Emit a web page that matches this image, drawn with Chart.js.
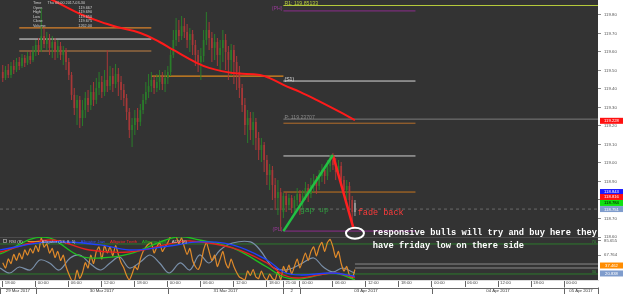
<!DOCTYPE html>
<html><head><meta charset="utf-8">
<script src="https://cdn.jsdelivr.net/npm/chart.js@4.4.1/dist/chart.umd.min.js"></script>
<style>html,body{margin:0;padding:0;background:#fff;overflow:hidden}canvas{display:block}</style>
</head><body><canvas id="c" width="625" height="294"></canvas>
<script>
// ---------- DATA ----------
const sessions = [['03-29 18:00','03-31 20:30'],['04-02 21:00','04-03 10:00']]; // 30-minute bars
const barMinutes = 30;
const open = [119.492,119.459,119.503,119.476,119.524,119.503,119.546,119.524,119.568,119.541,119.578,119.557,
119.600,119.638,119.611,119.686,119.643,119.676,119.622,119.654,119.600,
119.632,119.584,119.611,119.546,119.476,119.368,119.297,119.341,119.243,
119.286,119.351,119.313,119.384,119.341,119.405,119.438,119.384,119.449,
119.416,119.470,119.427,119.481,119.438,119.395,
119.351,119.276,119.178,119.205,
119.243,119.222,119.286,119.341,119.384,119.416,119.449,119.405,119.438,119.470,119.427,119.459,
119.492,119.584,119.665,119.719,119.686,119.740,119.708,119.665,119.697,119.638,119.584,119.546,119.578,119.665,119.719,119.676,119.622,119.654,119.584,119.622,119.665,119.600,119.557,119.611,119.546,119.492,
119.405,119.313,119.205,119.243,119.178,119.222,119.135,119.070,119.097,119.016,118.935,118.962,118.881,118.811,118.843,
118.735,118.822,118.773,118.811,118.757,118.800,118.832,118.789,118.822,118.865,118.832,118.881,118.908,118.876,118.930,118.962,118.930,118.984,119.016,118.989,118.951,118.984,118.908,118.854,118.876,118.800,118.735];
const close = [119.459,119.503,119.476,119.524,119.503,119.546,119.524,119.568,119.541,119.578,119.557,119.600,
119.638,119.611,119.686,119.643,119.676,119.622,119.654,119.600,119.632,
119.584,119.611,119.546,119.476,119.368,119.297,119.341,119.243,119.286,
119.351,119.313,119.384,119.341,119.405,119.438,119.384,119.449,119.416,
119.470,119.427,119.481,119.438,119.395,119.351,
119.276,119.178,119.205,119.243,
119.222,119.286,119.341,119.384,119.416,119.449,119.405,119.438,119.470,119.427,119.459,119.492,
119.584,119.665,119.719,119.686,119.740,119.708,119.665,119.697,119.638,119.584,119.546,119.578,119.665,119.719,119.676,119.622,119.654,119.584,119.622,119.665,119.600,119.557,119.611,119.546,119.492,119.405,
119.313,119.205,119.243,119.178,119.222,119.135,119.070,119.097,119.016,118.935,118.962,118.881,118.811,118.843,118.746,
118.822,118.773,118.811,118.757,118.800,118.832,118.789,118.822,118.865,118.832,118.881,118.908,118.876,118.930,118.962,118.930,118.984,119.016,118.989,118.951,118.984,118.908,118.854,118.876,118.800,118.735,118.784];
const high = [119.530,119.524,119.535,119.546,119.557,119.568,119.573,119.589,119.584,119.600,119.611,119.632,
119.665,119.676,119.838,119.730,119.708,119.697,119.686,119.676,119.665,
119.654,119.632,119.622,119.568,119.492,119.405,119.368,119.362,119.341,
119.384,119.395,119.422,119.438,119.459,119.492,119.470,119.503,119.611,
119.524,119.514,119.535,119.514,119.470,119.427,
119.373,119.297,119.243,119.286,
119.297,119.319,119.373,119.438,119.481,119.492,119.470,119.481,119.503,119.492,119.503,119.524,
119.611,119.719,119.784,119.773,119.795,119.784,119.751,119.730,119.719,119.665,119.611,119.622,119.719,119.816,119.762,119.708,119.697,119.676,119.665,119.719,119.697,119.632,119.643,119.638,119.578,119.524,
119.427,119.351,119.286,119.276,119.276,119.243,119.168,119.135,119.113,119.043,118.995,118.984,118.919,118.908,118.865,
118.838,118.843,118.832,118.827,118.822,118.865,118.854,118.854,118.897,118.886,118.919,118.941,118.930,118.962,118.995,118.984,119.016,119.043,119.054,119.027,119.016,119.005,118.930,118.908,118.897,118.822,118.800];
const low = [119.438,119.449,119.459,119.459,119.481,119.492,119.503,119.514,119.519,119.530,119.535,119.546,
119.578,119.584,119.600,119.622,119.611,119.584,119.568,119.557,119.568,
119.557,119.530,119.503,119.449,119.341,119.259,119.205,119.189,119.200,
119.243,119.276,119.286,119.308,119.319,119.368,119.351,119.362,119.384,
119.395,119.384,119.405,119.362,119.341,119.308,
119.232,119.135,119.086,119.151,
119.178,119.200,119.265,119.319,119.351,119.384,119.373,119.384,119.395,119.395,119.384,119.427,
119.470,119.568,119.632,119.654,119.665,119.676,119.622,119.600,119.584,119.524,119.492,119.449,119.546,119.638,119.611,119.546,119.557,119.524,119.503,119.546,119.503,119.449,119.470,119.427,119.395,119.351,
119.276,119.151,119.108,119.124,119.097,119.070,119.016,119.005,118.951,118.881,118.854,118.800,118.746,118.719,118.632,
118.703,118.735,118.746,118.730,118.724,118.768,118.719,118.757,118.800,118.789,118.811,118.843,118.832,118.854,118.897,118.886,118.908,118.951,118.962,118.908,118.919,118.876,118.822,118.800,118.746,118.681,118.713];
const rsi = [45,38,50,44,56,48,58,50,62,55,64,58,
68,60,78,66,70,58,64,52,60,
48,55,40,30,22,20,35,24,32,
45,38,55,44,60,66,50,68,58,
66,54,68,56,45,38,
28,22,30,40,
36,50,60,66,70,72,58,66,72,60,66,72,
80,80,80,70,78,66,56,64,48,40,36,44,62,72,60,48,55,40,50,60,45,38,50,40,32,26,
24,22,34,28,36,26,24,34,26,22,30,24,22,34,22,
40,32,42,30,40,50,38,48,58,48,60,66,54,66,72,60,72,76,66,52,60,44,34,40,28,24,36];

const maTimes = ['03-30 00:45','03-30 03:00','03-30 08:30','03-30 13:00','03-30 14:45','03-30 19:00','03-30 22:30','03-31 01:00','03-31 05:15','03-31 07:30','03-31 11:45','03-31 16:45','03-31 18:30','04-02 21:00','04-03 00:00','04-03 03:00','04-03 07:15','04-03 10:00'];
const maValues = [119.908,119.881,119.800,119.751,119.735,119.703,119.654,119.611,119.541,119.514,119.486,119.476,119.459,119.422,119.384,119.341,119.276,119.232];

const adxTimes = ['03-29 17:30','03-29 19:15','03-29 21:00','03-29 23:00','03-30 00:45','03-30 02:30','03-30 04:15','03-30 06:15','03-30 08:00','03-30 09:45','03-30 11:45','03-30 13:30','03-30 15:15','03-30 17:00','03-30 19:00','03-30 20:45','03-30 22:30','03-31 00:15','03-31 02:15','03-31 04:00','03-31 05:45','03-31 07:30','03-31 09:30','03-31 11:45','03-31 15:00','03-31 16:45','03-31 19:00','04-02 21:00','04-02 22:45','04-03 00:30','04-03 02:30','04-03 04:15','04-03 06:00','04-03 07:45','04-03 09:30','04-03 10:00'];
const adxValues = [38,31.3,39.3,35.3,48.7,44.7,35.3,51.3,55.3,44.7,35.3,44.7,52.7,38,46,55.3,44.7,31.3,44.7,35.3,55.3,44.7,62,71.3,72.7,62,39.3,35.3,38,44.7,51.3,39.3,32.7,38,32.7,31.3];
const jawTimes = ['03-29 17:30','03-30 02:30','03-30 11:45','03-30 17:00','03-31 00:15','03-31 05:45','03-31 11:45','03-31 18:00','04-02 21:00','04-03 00:00','04-03 06:00','04-03 10:00'];
const jawValues = [62,72.7,68.7,62,67.3,72.7,68.7,48.7,32.7,28.7,31.3,27];
const teethTimes = ['03-29 17:30','03-30 02:30','03-30 09:45','03-30 17:00','03-31 00:15','03-31 04:00','03-31 11:45','03-31 18:00','04-02 21:00','04-03 00:00','04-03 06:00','04-03 10:00'];
const teethValues = [59.3,75.3,62,59.3,70,74,64.7,44.7,28.7,24.7,31.3,25.5];
const lipsTimes = ['03-29 17:30','03-30 01:30','03-30 08:00','03-30 11:45','03-30 17:00','03-31 01:30','03-31 05:45','03-31 11:45','03-31 18:00','04-02 21:00','04-03 00:00','04-03 06:00','04-03 10:00'];
const lipsValues = [56.7,79,54,51.3,56.7,79.3,75.3,64.7,39.3,26,23.3,31.3,22.5];
const rsiLevels = [70, 30];
const indicatorGuides = [43.3, 38];

// horizontal levels: [from, to, price, colour, width, dashed]
const levels = [
 ['03-29 21:00','03-30 21:00',119.730,'#d9822b',1.2,false],
 ['03-29 21:00','03-30 21:00',119.670,'#e8e8e8',1,false],
 ['03-29 21:00','03-30 21:00',119.605,'#94683f',1.5,false],
 ['03-30 21:00','04-02 21:00',119.470,'#e08a1e',1.2,false],
 ['04-02 21:00','04-05 06:10',119.85133,'#b8cc3c',1,false],
 ['04-02 21:00','04-03 21:00',119.822,'#8c2c8c',1,false],
 ['04-02 21:00','04-03 21:00',119.443,'#d8d8d8',1,false],
 ['04-02 21:00','04-05 06:10',119.23707,'#7c7c7c',1,false],
 ['04-02 21:00','04-03 21:00',119.215,'#b56d2a',1,false],
 ['04-02 21:00','04-03 21:00',119.038,'#cfcfcf',1,false],
 ['04-02 21:00','04-03 21:00',118.843,'#c8761e',1,false],
 ['03-29 17:30','04-05 06:10',118.751,'#6a6a6a',1,true],
 ['04-02 21:00','04-03 21:00',118.632,'#8c2c8c',1,false]
];
const pivotLabels = [
 ['R1: 119.85133','04-02 21:00',119.85133,'#b8cc3c','left'],
 ['(PH)','04-02 21:00',119.822,'#9a3a9a','right'],
 ['(S1)','04-02 21:00',119.443,'#e0e0e0','left'],
 ['P: 119.23707','04-02 21:00',119.23707,'#8a8a8a','left'],
 ['(PL)','04-02 21:00',118.632,'#9a3a9a','right']
];
const upSwing = [['04-02 21:00',118.632],['04-03 06:00',119.043]];
const fadeSwing = [['04-03 06:00',119.043],['04-03 09:45',118.645]];
const circleAt = ['04-03 10:00',118.620];
const notes = [
 {lines:['gap up'], time:'04-03 00:00', price:118.735, color:'#2f9e3f', font:'8px "Liberation Mono", monospace'},
 {lines:['fade back'], time:'04-03 10:30', price:118.719, color:'#ff3b3b', font:'8.5px "Liberation Mono", monospace'},
 {lines:['responsive bulls will try and buy here they','have friday low on there side'], time:'04-03 13:15', price:118.611, color:'#ffffff', font:'bold 8.7px "Liberation Mono", monospace'}
];
const priceTicks = [118.6,118.7,118.8,118.9,119.0,119.1,119.2,119.3,119.4,119.5,119.6,119.7,119.8];
const indicatorTicks = [74, 55.3];
const indicatorTickLabels = ['85.655','67.764'];
const priceBoxes = [
 [119.228,'119.228','#ff1010','#fff'],
 [118.843,'118.843','#1a1aff','#fff'],
 [118.816,'118.816','#ff1010','#fff'],
 [118.784,'118.784','#10e010','#000'],
 [118.751,'118.751','#7f9ccc','#fff']
];
const indicatorBoxes = [[41.3,'37.462','#ff8c00','#fff'],[30.7,'20.838','#7f9ccc','#fff']];
const timeTicks = ['03-29 18:00','03-30 00:00','03-30 06:00','03-30 12:00','03-30 18:00','03-31 00:00','03-31 06:00','03-31 12:00','03-31 18:00','04-02 21:00','04-03 00:00','04-03 06:00','04-03 12:00','04-03 18:00','04-04 00:00','04-04 06:00','04-04 12:00','04-04 18:00','04-05 00:00'];
const dayBreaks = ['03-30 00:00','03-31 00:00','04-02 21:00','04-03 00:00','04-04 00:00','04-05 00:00'];
const dayLabels = ['29 Mar 2017','30 Mar 2017','31 Mar 2017','2','03 Apr 2017','04 Apr 2017','05 Apr 2017'];
const infoLabels = ['Time','Open','High','Low','Close','Volume'];
const infoValues = ['Thu 06:00 2017-03-30','119.667','119.690','119.650','119.675','1262.00'];
const legendItems = [['RSI (8)','#cfcfcf',null],['Alligator (13, 8, 5)','#cfcfcf','#e08a2a'],['Alligator Jaw','#3050ff',null],['Alligator Teeth','#ff2a2a',null],['Alligator Lips','#20c020',null],['ADX (8)','#cfcfcf',null]];
const xRange = ['03-29 17:30','04-05 06:10'];

// ---------- HELPERS ----------
function hoursOf(s){const [md,hm]=s.split(' ');const [mo,d]=md.split('-').map(Number);const [h,m]=hm.split(':').map(Number);
 let t=((mo===3?d:31+d)-30)*24+h+m/60; if(t>=93) t-=48; return t;} // trading hours since 30 Mar 00:00 (weekend removed)
const candleT=[]; for(const [a,b] of sessions){for(let t=hoursOf(a);t<=hoursOf(b)+1e-9;t+=barMinutes/60) candleT.push(t);}
const last=close.length-1;
const cColor=i=> i===last?'#9a9a9a':(close[i]>=open[i]?'#2a7d2a':'#a83838');
const pts=(ts,vs)=>ts.map((t,i)=>({x:hoursOf(t),y:vs[i]}));
const FONT='"Liberation Sans", Arial, sans-serif';
const noPad=s=>{s.paddingTop=0;s.paddingBottom=0;s.paddingLeft=0;s.paddingRight=0;};

const datasets=[];
levels.forEach(l=>datasets.push({type:'line',data:[{x:hoursOf(l[0]),y:l[2]},{x:hoursOf(l[1]),y:l[2]}],borderColor:l[3],borderWidth:l[4],borderDash:l[5]?[3,3]:[],pointRadius:0,yAxisID:'y',order:6}));
datasets.push({type:'bar',data:candleT.map((t,i)=>({x:t,y:[low[i],high[i]]})),backgroundColor:candleT.map((t,i)=>cColor(i)),barThickness:1,inflateAmount:0,grouped:false,yAxisID:'y',order:4});
datasets.push({type:'bar',data:candleT.map((t,i)=>({x:t,y:[open[i],close[i]]})),backgroundColor:candleT.map((t,i)=>cColor(i)),barThickness:1.7,inflateAmount:0,minBarLength:1,grouped:false,yAxisID:'y',order:3});
datasets.push({type:'line',data:pts(maTimes,maValues),borderColor:'#ff1a1a',borderWidth:2,pointRadius:0,tension:0.4,yAxisID:'y',order:2});
datasets.push({type:'line',data:upSwing.map(p=>({x:hoursOf(p[0]),y:p[1]})),borderColor:'#22c043',borderWidth:2.5,pointRadius:0,yAxisID:'y',order:1});
datasets.push({type:'line',data:fadeSwing.map(p=>({x:hoursOf(p[0]),y:p[1]})),borderColor:'#ff2020',borderWidth:2.5,pointRadius:0,yAxisID:'y',order:1});
// indicator panel
rsiLevels.forEach(v=>datasets.push({type:'line',data:[{x:hoursOf(xRange[0]),y:v},{x:hoursOf(xRange[1]),y:v}],borderColor:'#2c7a2c',borderWidth:1,pointRadius:0,yAxisID:'y2',order:6}));
indicatorGuides.forEach(v=>datasets.push({type:'line',data:[{x:hoursOf('04-03 10:00'),y:v},{x:hoursOf(xRange[1]),y:v}],borderColor:'#8a8a8a',borderWidth:1,pointRadius:0,yAxisID:'y2',order:6}));
datasets.push({type:'line',data:pts(adxTimes,adxValues),borderColor:'#7a90aa',borderWidth:1.2,pointRadius:0,tension:0.35,yAxisID:'y2',order:3});
datasets.push({type:'line',data:candleT.map((t,i)=>({x:t,y:rsi[i]})),borderColor:'#e08a2a',borderWidth:1.2,pointRadius:0,tension:0.2,yAxisID:'y2',order:2});
datasets.push({type:'line',data:pts(jawTimes,jawValues),borderColor:'#2040ff',borderWidth:1.3,pointRadius:0,tension:0.4,yAxisID:'y2',order:1});
datasets.push({type:'line',data:pts(teethTimes,teethValues),borderColor:'#e82020',borderWidth:1.3,pointRadius:0,tension:0.4,yAxisID:'y2',order:1});
datasets.push({type:'line',data:pts(lipsTimes,lipsValues),borderColor:'#20c020',borderWidth:1.3,pointRadius:0,tension:0.4,yAxisID:'y2',order:1});

function text(ctx,s,x,y,font,color,align,base){ctx.font=font;ctx.fillStyle=color;ctx.textAlign=align||'left';ctx.textBaseline=base||'alphabetic';ctx.fillText(s,x,y);}
function box(ctx,yy,label,bg,fg,left){ctx.fillStyle=bg;ctx.fillRect(left+2,yy-3,23,6);text(ctx,label,left+13.5,yy+0.3,'4.2px '+FONT,fg,'center','middle');}

const overlay={id:'overlay',
 beforeDraw(chart){const {ctx,chartArea:a,scales}=chart;ctx.save();ctx.fillStyle='#fff';ctx.fillRect(0,0,chart.width,chart.height);
  ctx.fillStyle='#333333';ctx.fillRect(a.left,a.top,a.right-a.left,a.bottom-a.top);
  ctx.strokeStyle='#4c4c4c';ctx.lineWidth=1;ctx.beginPath();ctx.moveTo(a.left,scales.y2.top+0.5);ctx.lineTo(a.right,scales.y2.top+0.5);ctx.stroke();ctx.restore();},
 afterDraw(chart){const {ctx,chartArea:a,scales}=chart;const X=scales.x,Y=scales.y,Y2=scales.y2;ctx.save();
  pivotLabels.forEach(p=>{const x=X.getPixelForValue(hoursOf(p[1]));const y=Y.getPixelForValue(p[2]);
    text(ctx,p[0],p[4]==='left'?x+1:x-1,y-0.5,'5.2px '+FONT,p[3],p[4]);});
  infoLabels.forEach((l,i)=>{const y=4+i*4.5;text(ctx,l,33,y,'3.8px '+FONT,'#d0d0d0','left');
    text(ctx,infoValues[i],i===0?85:92,y,'3.8px '+FONT,'#d0d0d0','right');});
  notes.forEach(n=>{const x=X.getPixelForValue(hoursOf(n.time));const y=Y.getPixelForValue(n.price);
    n.lines.forEach((s,k)=>text(ctx,s,x,y+k*13,n.font,n.color,'left'));});
  const cx=X.getPixelForValue(hoursOf(circleAt[0])),cy=Y.getPixelForValue(circleAt[1]);
  ctx.strokeStyle='#fff';ctx.lineWidth=2;ctx.beginPath();ctx.ellipse(cx,cy,9,5.5,0,0,Math.PI*2);ctx.stroke();
  let lx=3;const ly=Y2.top+6;ctx.strokeStyle='#9a9a9a';ctx.lineWidth=0.8;ctx.strokeRect(lx+0.5,ly-3.5,3,3);lx+=6;
  legendItems.forEach(it=>{if(it[2]){ctx.strokeStyle=it[2];ctx.lineWidth=1;ctx.beginPath();ctx.moveTo(lx,ly-1.5);ctx.lineTo(lx+12,ly-1.5);ctx.stroke();lx+=14;}
    ctx.font='4.3px '+FONT;text(ctx,it[0],lx,ly,'4.3px '+FONT,it[1],'left');lx+=ctx.measureText(it[0]).width+5;});
  rsiLevels.forEach(v=>text(ctx,String(v),a.right-2,Y2.getPixelForValue(v)-0.8,'3.8px '+FONT,'#3a9a3a','right'));
  priceBoxes.forEach(b=>box(ctx,Y.getPixelForValue(b[0]),b[1],b[2],b[3],a.right));
  indicatorBoxes.forEach(b=>box(ctx,Y2.getPixelForValue(b[0]),b[1],b[2],b[3],a.right));
  const edges=[X.left,...dayBreaks.map(s=>X.getPixelForValue(hoursOf(s))),X.right];
  const top=X.top+7.5;ctx.strokeStyle='#666';ctx.lineWidth=1;
  ctx.beginPath();ctx.moveTo(X.left,Math.round(top)+0.5);ctx.lineTo(X.right,Math.round(top)+0.5);ctx.stroke();
  edges.forEach(e=>{ctx.beginPath();ctx.moveTo(Math.round(e)+0.5,top);ctx.lineTo(Math.round(e)+0.5,chart.height);ctx.stroke();});
  dayLabels.forEach((s,i)=>{let x=(edges[i]+edges[i+1])/2;text(ctx,s,x,top+3.8,'4.3px '+FONT,'#333','center','middle');});
  ctx.restore();}
};

new Chart(document.getElementById('c'),{
 type:'bar',
 data:{datasets},
 options:{responsive:false,animation:false,events:[],layout:{padding:0},
  plugins:{legend:{display:false},tooltip:{enabled:false}},
  scales:{
   x:{type:'linear',min:hoursOf(xRange[0]),max:hoursOf(xRange[1]),offset:false,
      grid:{offset:false,drawOnChartArea:false,drawTicks:true,tickLength:7,color:'#666'},border:{display:true,color:'#ddd'},
      afterBuildTicks:s=>{s.ticks=timeTicks.map(t=>({value:hoursOf(t)}));},
      afterFit:s=>{s.height=14;noPad(s);},
      ticks:{autoSkip:false,maxRotation:0,align:'start',labelOffset:2,padding:-6.5,color:'#444',font:{size:4.3,family:FONT},
        callback:(v,i)=>timeTicks[i]?timeTicks[i].slice(6):''}},
   y:{type:'linear',position:'right',stack:'r',stackWeight:237,min:118.6,max:119.881,
      grid:{drawOnChartArea:false,tickLength:3,color:'#888'},border:{display:false},
      afterBuildTicks:s=>{s.ticks=priceTicks.map(v=>({value:v}));},
      afterFit:s=>{s.width=27;noPad(s);},
      ticks:{padding:3,color:'#555',font:{size:4.3,family:FONT},callback:v=>Number(v).toFixed(2)}},
   y2:{type:'linear',position:'right',stack:'r',stackWeight:43,min:22,max:79.3,
      grid:{drawOnChartArea:false,tickLength:3,color:'#888'},border:{display:false},
      afterBuildTicks:s=>{s.ticks=indicatorTicks.map(v=>({value:v}));},
      afterFit:s=>{s.width=27;noPad(s);},
      ticks:{padding:3,color:'#555',font:{size:4.3,family:FONT},callback:(v,i)=>indicatorTickLabels[i]}}
  }},
 plugins:[overlay]
});
</script></body></html>
